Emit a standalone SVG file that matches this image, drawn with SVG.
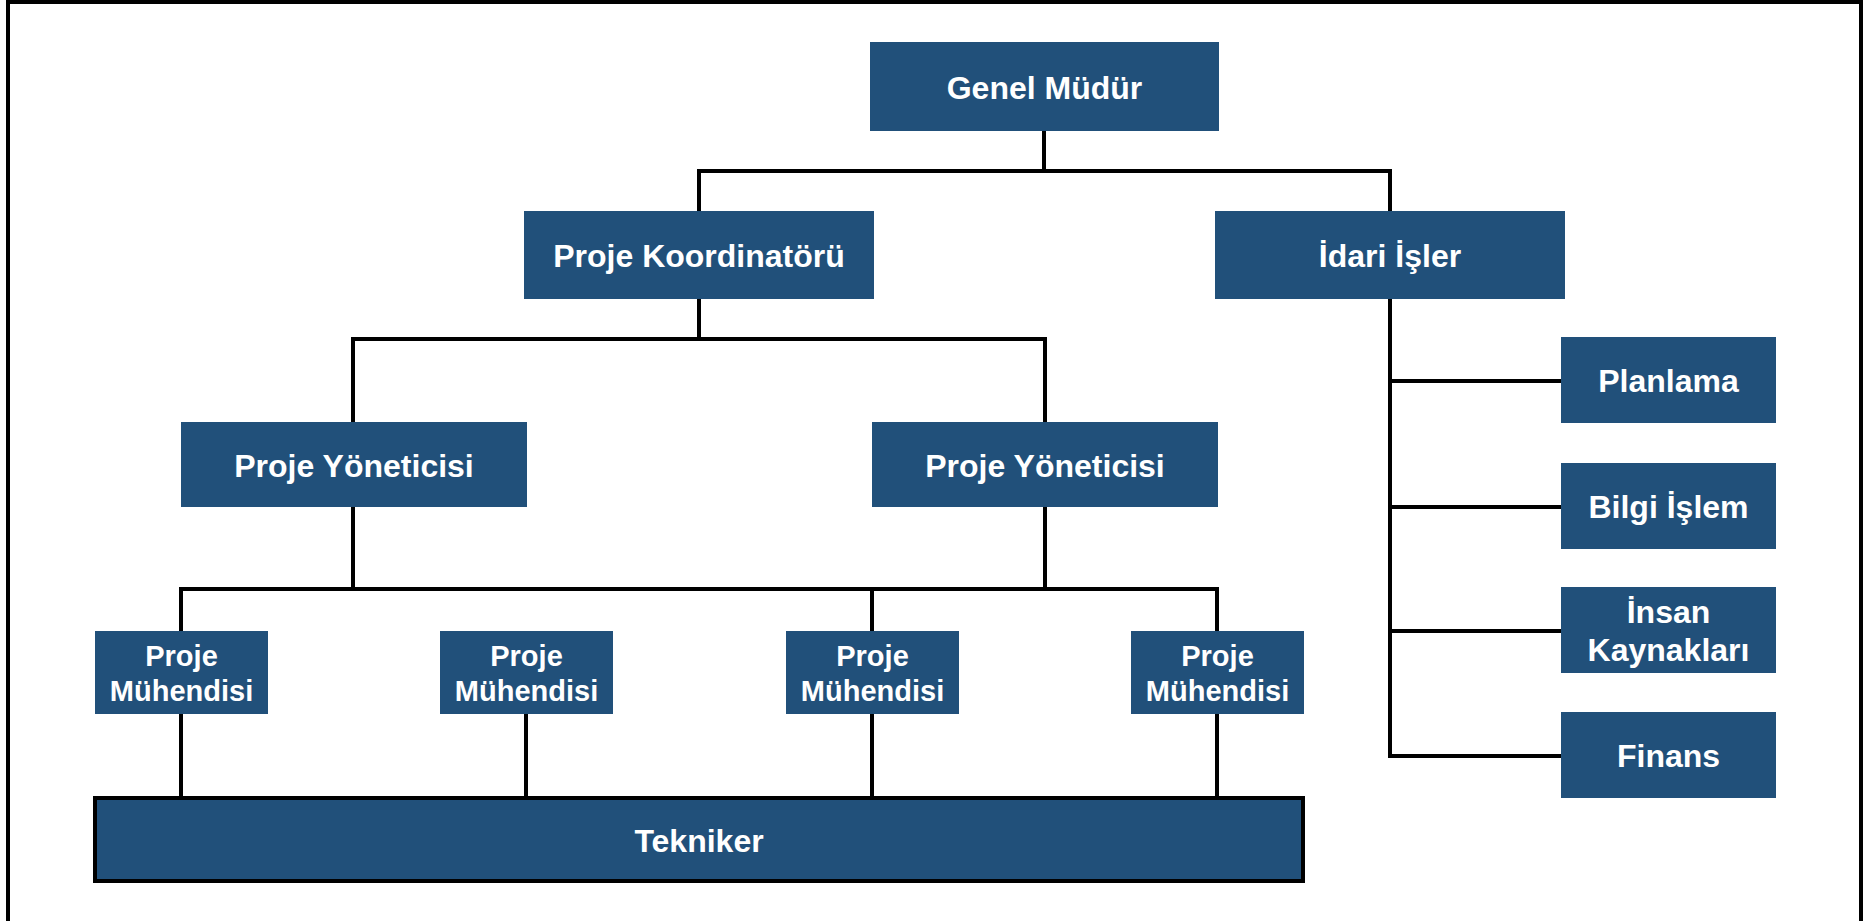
<svg xmlns="http://www.w3.org/2000/svg" width="1875" height="921" viewBox="0 0 1875 921">
<style>
.box{fill:#21507a;}
.t{fill:#ffffff;font-family:"Liberation Sans",Arial,sans-serif;font-weight:bold;font-size:32px;text-anchor:middle;}
.s{font-size:29px;}
.c{stroke:#000;stroke-width:4;fill:none;stroke-linecap:square;}
</style>
<rect width="1875" height="921" fill="#ffffff"/>
<path d="M8,921 V2 H1861 V921" fill="none" stroke="#000" stroke-width="4"/>
<g id="connectors" class="c">
<path d="M1044,131 V171 M699,171 H1390 M699,171 V211 M1390,171 V211"/>
<path d="M699,299 V339 M353,339 H1045 M353,339 V422 M1045,339 V422"/>
<path d="M353,507 V589 M1045,507 V589 M181,589 H1217 M181,589 V631 M872,589 V631 M1217,589 V631"/>
<path d="M181,714 V798 M526,714 V798 M872,714 V798 M1217,714 V798"/>
<path d="M1390,299 V756 M1390,381 H1561 M1390,507 H1561 M1390,631 H1561 M1390,756 H1561"/>
</g>
<g id="genel-mudur"><rect class="box" x="870" y="42" width="349" height="89"/><text class="t" x="1044.5" y="99">Genel Müdür</text></g>
<g id="proje-koordinatoru"><rect class="box" x="524" y="211" width="350" height="88"/><text class="t" x="699" y="267">Proje Koordinatörü</text></g>
<g id="idari-isler"><rect class="box" x="1215" y="211" width="350" height="88"/><text class="t" x="1390" y="267">İdari İşler</text></g>
<g id="proje-yoneticisi-1"><rect class="box" x="181" y="422" width="346" height="85"/><text class="t" x="354" y="477">Proje Yöneticisi</text></g>
<g id="proje-yoneticisi-2"><rect class="box" x="872" y="422" width="346" height="85"/><text class="t" x="1045" y="477">Proje Yöneticisi</text></g>
<g id="proje-muhendisi-1"><rect class="box" x="95" y="631" width="173" height="83"/><text class="t s" x="181.5" y="666">Proje</text><text class="t s" x="181.5" y="701">Mühendisi</text></g>
<g id="proje-muhendisi-2"><rect class="box" x="440" y="631" width="173" height="83"/><text class="t s" x="526.5" y="666">Proje</text><text class="t s" x="526.5" y="701">Mühendisi</text></g>
<g id="proje-muhendisi-3"><rect class="box" x="786" y="631" width="173" height="83"/><text class="t s" x="872.5" y="666">Proje</text><text class="t s" x="872.5" y="701">Mühendisi</text></g>
<g id="proje-muhendisi-4"><rect class="box" x="1131" y="631" width="173" height="83"/><text class="t s" x="1217.5" y="666">Proje</text><text class="t s" x="1217.5" y="701">Mühendisi</text></g>
<g id="tekniker"><rect class="box" x="95" y="798" width="1208" height="83" stroke="#000" stroke-width="4"/><text class="t" x="699" y="852">Tekniker</text></g>
<g id="planlama"><rect class="box" x="1561" y="337" width="215" height="86"/><text class="t" x="1668.5" y="392">Planlama</text></g>
<g id="bilgi-islem"><rect class="box" x="1561" y="463" width="215" height="86"/><text class="t" x="1668.5" y="518">Bilgi İşlem</text></g>
<g id="insan-kaynaklari"><rect class="box" x="1561" y="587" width="215" height="86"/><text class="t" x="1668.5" y="623">İnsan</text><text class="t" x="1668.5" y="661">Kaynakları</text></g>
<g id="finans"><rect class="box" x="1561" y="712" width="215" height="86"/><text class="t" x="1668.5" y="767">Finans</text></g>
</svg>
